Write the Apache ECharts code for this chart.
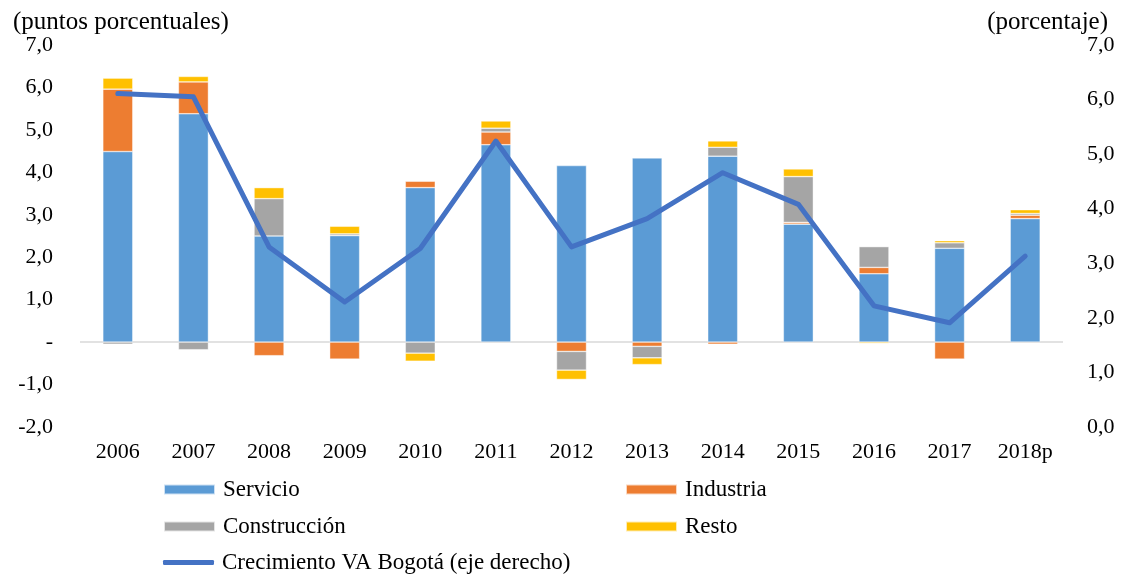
<!DOCTYPE html>
<html>
<head>
<meta charset="utf-8">
<script src="https://cdn.jsdelivr.net/npm/echarts@6/dist/echarts.min.js"></script>
<style>
    html, body { margin: 0; padding: 0; background: #fff; }
    #chart { width: 1121px; height: 578px; }
</style>
</head>
<body>
<div id="chart"></div>
<script>
// datos
var years = ['2006','2007','2008','2009','2010','2011','2012','2013','2014','2015','2016','2017','2018p'];
var servicio = [4.49, 5.38, 2.50, 2.51, 3.64, 4.65, 4.16, 4.34, 4.38, 2.78, 1.61, 2.21, 2.91];
var industria = [1.47, 0.75, -0.32, -0.40, 0.15, 0.30, -0.22, -0.10, -0.05, 0.04, 0.15, -0.40, 0.08];
var construccion = [-0.05, -0.18, 0.88, 0.04, -0.26, 0.09, -0.44, -0.27, 0.21, 1.08, 0.49, 0.13, 0.04];
var resto = [0.26, 0.13, 0.26, 0.18, -0.19, 0.17, -0.22, -0.16, 0.15, 0.18, -0.03, 0.05, 0.09];
var crecimiento = [6.11, 6.05, 3.30, 2.29, 3.27, 5.24, 3.30, 3.82, 4.66, 4.08, 2.22, 1.91, 3.13];

var fontFam = '"Liberation Serif", "Times New Roman", serif';
var txt = {color: '#000', fontFamily: fontFam, fontSize: 23, padding: [0, 0, 0, 3]};

function comma(v){
    return v.toFixed(1).replace('.', ',');
}

function legendItem(name, left, top, h, icon){
    return {
        left: left, top: top,
        padding: 0,
        itemWidth: 51, itemHeight: h, itemGap: 0,
        icon: icon || 'rect',
        textStyle: txt,
        data: [name]
    };
}

var chart = echarts.init(document.getElementById('chart'));

function barSeries(name, data, color){
    return {
        name: name,
        type: 'bar',
        stack: 'total',
        barWidth: 30,
        data: data,
        itemStyle: {color: color, borderColor: 'rgba(255,255,255,0.7)', borderWidth: 0.6}
    };
}

var series = [
    barSeries('Servicio', servicio, '#5B9BD5'),
    barSeries('Industria', industria, '#ED7D31'),
    barSeries('Construcción', construccion, '#A5A5A5'),
    barSeries('Resto', resto, '#FFC000'),
    {
        name: 'Crecimiento VA Bogotá (eje derecho)',
        type: 'line',
        yAxisIndex: 1,
        data: crecimiento,
        symbol: 'none',
        z: 5,
        itemStyle: {color: '#4472C4'},
        lineStyle: {color: '#4472C4', width: 5, cap: 'round', join: 'round'}
    }
];
series[0].markLine = {
    silent: true,
    symbol: 'none',
    label: {show: false},
    lineStyle: {color: '#D9D9D9', width: 1.5, type: 'solid'},
    data: [{yAxis: 0}],
    z: 1
};

var option = {
    animation: false,
    backgroundColor: '#fff',
    title: [
        {text: '(puntos porcentuales)', left: 8, top: 5, textStyle: {color: '#000', fontFamily: fontFam, fontSize: 25, fontWeight: 'normal'}},
        {text: '(porcentaje)', right: 8, top: 5, textStyle: {color: '#000', fontFamily: fontFam, fontSize: 25, fontWeight: 'normal'}}
    ],
    legend: [
        legendItem('Servicio', 163, 478, 10),
        legendItem('Industria', 625, 478, 10),
        legendItem('Construcción', 163, 515, 10),
        legendItem('Resto', 625, 515, 10),
        legendItem('Crecimiento VA Bogotá (eje derecho)', 163, 551, 5, 'roundRect')
    ],
    grid: {left: 80, right: 58, top: 45, bottom: 151},
    xAxis: {
        type: 'category',
        data: years,
        axisLine: {show: false},
        axisTick: {show: false},
        axisLabel: {color: '#000', fontFamily: fontFam, fontSize: 22, margin: 14}
    },
    yAxis: [
        {
            type: 'value', min: -2, max: 7, interval: 1,
            splitLine: {show: false},
            axisLine: {show: false},
            axisTick: {show: false},
            axisLabel: {
                color: '#000', fontFamily: fontFam, fontSize: 22, margin: 27,
                formatter: function(v){ return v === 0 ? '-' : comma(v); }
            }
        },
        {
            type: 'value', min: 0, max: 7, interval: 1,
            splitLine: {show: false},
            axisLine: {show: false},
            axisTick: {show: false},
            axisLabel: {
                color: '#000', fontFamily: fontFam, fontSize: 22, margin: 24,
                formatter: function(v){ return comma(v); }
            }
        }
    ],
    series: series
};

chart.setOption(option);
</script>
</body>
</html>
